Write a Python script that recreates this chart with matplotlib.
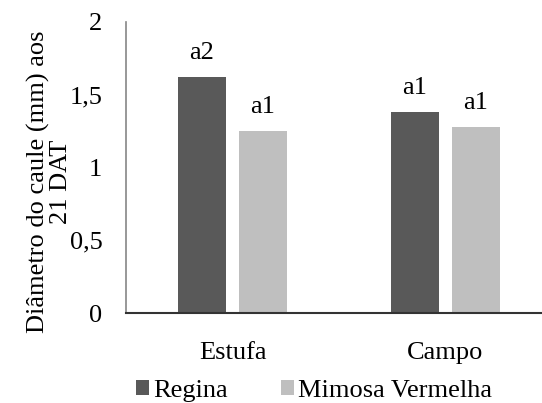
import numpy as np
import matplotlib.pyplot as plt

plt.rcParams["font.family"] = ["Liberation Serif", "DejaVu Serif"]

categorias = ["Estufa", "Campo"]
series = ["Regina", "Mimosa Vermelha"]
regina = [1.62, 1.38]
mimosa = [1.25, 1.28]
rotulos_regina = ["a2", "a1"]
rotulos_mimosa = ["a1", "a1"]
yticks = [0, 0.5, 1, 1.5, 2]
ytick_labels = ["0", "0,5", "1", "1,5", "2"]

fig = plt.figure(figsize=(5.42, 4.03), dpi=100)
ax = fig.add_axes([126/542, 90/403, 426/542, 291/403])

x = np.arange(len(categorias))
w = 0.225
off = 0.143
b1 = ax.bar(x - off, regina, w, color="#595959", label=series[0])
b2 = ax.bar(x + off, mimosa, w, color="#bfbfbf", label=series[1])

for bars, labs in [(b1, rotulos_regina), (b2, rotulos_mimosa)]:
    for b, t in zip(bars, labs):
        ax.annotate(t, (b.get_x() + b.get_width()/2, b.get_height()),
                    xytext=(0, 13), textcoords="offset points",
                    ha="center", va="baseline", fontsize=19)

ax.set_xlim(-0.5, 1.5)
ax.set_ylim(0, 2)
ax.set_yticks(yticks)
ax.set_yticklabels(ytick_labels)
ax.set_xticks(x)
ax.set_xticklabels(categorias)
ax.tick_params(axis="y", length=0, pad=17, labelsize=19)
ax.tick_params(axis="x", length=0, pad=21, labelsize=19)

for s in ["top", "right"]:
    ax.spines[s].set_visible(False)
ax.spines["left"].set_color("#868686")
ax.spines["left"].set_linewidth(1.2)
ax.spines["bottom"].set_color("#333333")
ax.spines["bottom"].set_linewidth(1.5)

fig.text(49/542, 1 - 182/403, "Diâmetro do caule (mm) aos\n21 DAT",
         rotation=90, ha="center", va="center", fontsize=19, linespacing=1.0)

fig.legend(handles=[b1, b2], labels=series, loc="center",
           bbox_to_anchor=(314/542, 1 - 391/403), ncol=2, frameon=False,
           fontsize=19, handlelength=0.5, handleheight=0.5,
           handletextpad=0.15, columnspacing=2.0, borderpad=0)

fig.savefig("out.png", dpi=100)
